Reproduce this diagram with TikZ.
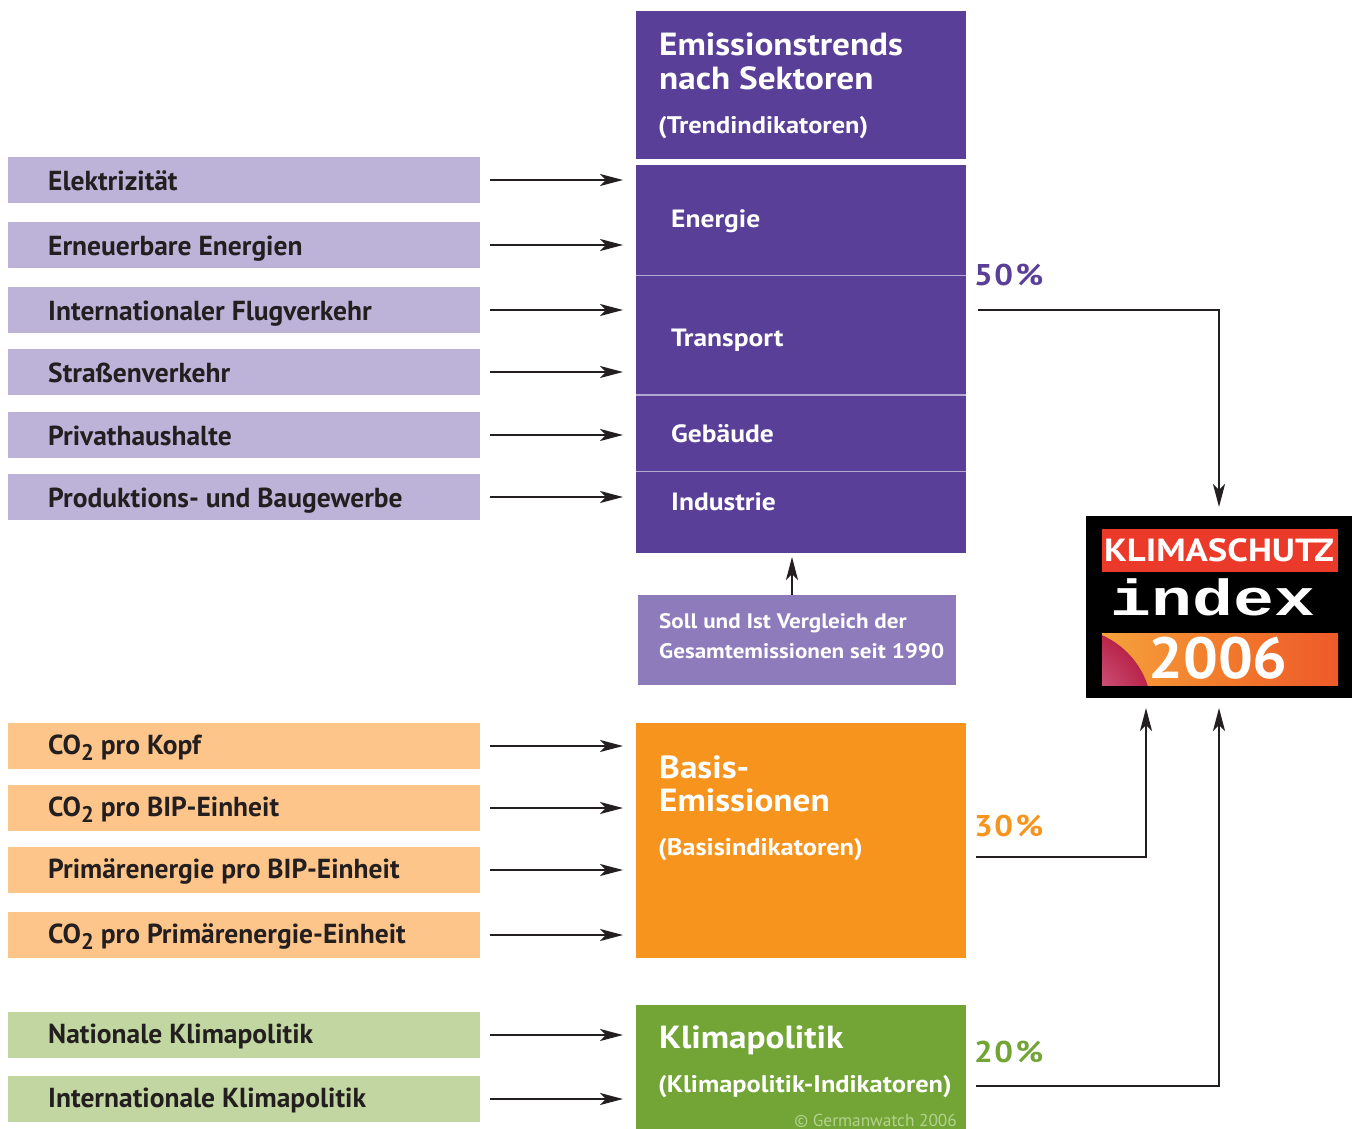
\documentclass[tikz,border=0pt]{standalone}
\usepackage{fontspec}
\setmainfont{PT Sans}
\newfontfamily\widefont{PT Sans}[FakeStretch=1.1]
\newfontfamily\logomono{Liberation Mono}
\usetikzlibrary{arrows.meta,calc}
\definecolor{pdark}{HTML}{593F98}
\definecolor{plight}{HTML}{BDB3D8}
\definecolor{psoll}{HTML}{8E7BBC}
\definecolor{odark}{HTML}{F7941E}
\definecolor{olight}{HTML}{FDC58A}
\definecolor{gdark}{HTML}{72A536}
\definecolor{glight}{HTML}{C2D6A1}
\definecolor{gcopy}{HTML}{B3D28E}
\definecolor{txt}{HTML}{231F20}
\definecolor{logored}{HTML}{EC3A2A}
\definecolor{bandl}{HTML}{F5A23C}
\definecolor{bandm}{HTML}{F27B2C}
\definecolor{bandr}{HTML}{EE5A2A}
\definecolor{pinkin}{HTML}{E27AA0}
\definecolor{pinkout}{HTML}{B8244A}
\newcommand\cotwo{CO\raisebox{-0.22em}{\scalebox{0.82}{2}}}
\begin{document}
\begin{tikzpicture}[x=1pt,y=-1pt,
  box/.style={inner sep=0pt,outer sep=0pt,anchor=north west,draw=none},
  lbox/.style={box,minimum width=472pt,minimum height=46pt},
  ltext/.style={inner sep=0pt,anchor=base west,text=txt,font=\fontsize{27.5}{32}\selectfont\bfseries},
  wtitle/.style={inner sep=0pt,anchor=base west,text=white,font=\widefont\fontsize{32}{36}\selectfont\bfseries},
  wsub/.style={inner sep=0pt,anchor=base west,text=white,font=\widefont\fontsize{24}{28}\selectfont\bfseries},
  wsec/.style={inner sep=0pt,anchor=base west,text=white,font=\widefont\fontsize{25}{28}\selectfont\bfseries},
  wsoll/.style={inner sep=0pt,anchor=base west,text=white,font=\widefont\fontsize{21}{24}\selectfont\bfseries},
  pct/.style={inner sep=0pt,anchor=base west,font=\widefont\fontsize{30}{32}\selectfont\bfseries},
  arr/.style={draw=txt,line width=2.4pt,-{Stealth[length=23pt,width=12pt,inset=6pt]}},
  sep/.style={draw=pdark!45!white,line width=1.2pt}
]
\useasboundingbox (0,0) rectangle (1354,1129);

% ---------- purple column ----------
\node[box,fill=pdark,minimum width=330pt,minimum height=148pt] (head) at (636,11) {};
\node[box,fill=pdark,minimum width=330pt,minimum height=110.5pt] (energie) at (636,165) {};
\node[box,fill=pdark,minimum width=330pt,minimum height=119.5pt] (transport) at (636,275.5) {};
\node[box,fill=pdark,minimum width=330pt,minimum height=76.5pt] (gebaeude) at (636,395) {};
\node[box,fill=pdark,minimum width=330pt,minimum height=81.5pt] (industrie) at (636,471.5) {};
\draw[sep] (transport.north west) -- (transport.north east);
\draw[sep] (gebaeude.north west) -- (gebaeude.north east);
\draw[sep] (industrie.north west) -- (industrie.north east);

\node[wtitle] (h1) at (659,56) {Emissionstrends};
\node[wtitle] (h2) at (659,90) {nach Sektoren};
\node[wsub] (h3) at (658,133) {(Trendindikatoren)};
\node[wsec] (s1) at (671,227) {Energie};
\node[wsec] (s2) at (671,346) {Transport};
\node[wsec] (s3) at (671,442) {Gebäude};
\node[wsec] (s4) at (671,510) {Industrie};

% Soll box
\node[box,fill=psoll,minimum width=318pt,minimum height=90pt] (soll) at (638,595) {};
\node[wsoll] (so1) at (659,628) {Soll und Ist Vergleich der};
\node[wsoll] (so2) at (659,658) {Gesamtemissionen seit 1990};
\draw[arr,shorten >=4pt] ($(soll.north)+(-5,0)$) -- ($(industrie.south)+(-9,0)$);

% ---------- orange ----------
\node[box,fill=odark,minimum width=330pt,minimum height=235pt] (basis) at (636,723) {};
\node[wtitle] (b1) at (659,778) {Basis-};
\node[wtitle] (b2) at (659,811) {Emissionen};
\node[wsub] (b3) at (658,855) {(Basisindikatoren)};

% ---------- green ----------
\node[box,fill=gdark,minimum width=330pt,minimum height=124pt] (klima) at (636,1005) {};
\node[wtitle] (k1) at (659,1048) {Klimapolitik};
\node[wsub] (k2) at (658,1092) {(Klimapolitik-Indikatoren)};
\node[inner sep=0pt,anchor=base east,text=gcopy,font=\fontsize{17.3}{19}\selectfont] (copy) at (957,1126) {© Germanwatch 2006};

% ---------- left labels ----------
\node[lbox,fill=plight] (l1) at (8,157) {};
\node[lbox,fill=plight] (l2) at (8,222) {};
\node[lbox,fill=plight] (l3) at (8,287) {};
\node[lbox,fill=plight] (l4) at (8,349) {};
\node[lbox,fill=plight] (l5) at (8,412) {};
\node[lbox,fill=plight] (l6) at (8,474) {};
\node[ltext] (t1) at (48,190) {Elektrizität};
\node[ltext] (t2) at (48,255) {Erneuerbare Energien};
\node[ltext] (t3) at (48,320) {Internationaler Flugverkehr};
\node[ltext] (t4) at (48,382) {Straßenverkehr};
\node[ltext] (t5) at (48,445) {Privathaushalte};
\node[ltext] (t6) at (48,507) {Produktions- und Baugewerbe};

\node[lbox,fill=olight] (o1) at (8,723) {};
\node[lbox,fill=olight] (o2) at (8,785) {};
\node[lbox,fill=olight] (o3) at (8,847) {};
\node[lbox,fill=olight] (o4) at (8,912) {};
\node[ltext] (u1) at (48,754) {\cotwo{} pro Kopf};
\node[ltext] (u2) at (48,816) {\cotwo{} pro BIP-Einheit};
\node[ltext] (u3) at (48,878) {Primärenergie pro BIP-Einheit};
\node[ltext] (u4) at (48,943) {\cotwo{} pro Primärenergie-Einheit};

\node[lbox,fill=glight] (g1) at (8,1012) {};
\node[lbox,fill=glight] (g2) at (8,1076) {};
\node[ltext] (v1) at (48,1043) {Nationale Klimapolitik};
\node[ltext] (v2) at (48,1107) {Internationale Klimapolitik};

% ---------- left arrows ----------
\foreach \a/\b in {l1/energie,l2/energie,l3/transport,l4/transport,l5/gebaeude,l6/industrie,o1/basis,o2/basis,o3/basis,o4/basis,g1/klima,g2/klima}
  \draw[arr,shorten <=10pt,shorten >=13pt] (\a.east) -- (\a.east -| \b.west);

% ---------- percentages ----------
\node[pct,text=pdark] (p50) at (974,285) {5\kern1.5pt0\kern2.5pt\%};
\node[pct,text=odark] (p30) at (974,836) {3\kern1.5pt0\kern2.5pt\%};
\node[pct,text=gdark] (p20) at (974,1062) {2\kern1.5pt0\kern2.5pt\%};

% ---------- logo ----------
\node[box,fill=black,minimum width=266pt,minimum height=182pt] (logo) at (1086,516) {};
\fill[logored] (1102,529) rectangle (1338,572);
\shade[left color=bandl,right color=bandr,middle color=bandm] (1102,633) rectangle (1338,685);
\begin{scope}
  \clip (1102,633) rectangle (1338,685);
  \shade[inner color=pinkin,outer color=pinkout] (1068,712) circle (84);
\end{scope}
\node[inner sep=0pt,anchor=base,text=white,font=\fontsize{32}{34}\selectfont\bfseries] (lk) at (1219,561) {\scalebox{1.15}[1]{KLIMASCHUTZ}};
\node[inner sep=0pt,anchor=base,text=white,font=\fontsize{62}{66}\selectfont\logomono\bfseries] (li) at (1213,615) {\scalebox{1.1}[0.82]{index}};
\node[inner sep=0pt,anchor=base,text=white,font=\fontsize{58}{60}\selectfont\bfseries] (ly) at (1218,678) {\scalebox{1.06}[1]{2006}};

% ---------- connectors to logo ----------
\coordinate (c50) at (978,310);
\coordinate (c30) at (976,857);
\coordinate (c20) at (976,1086);
\coordinate (in30) at ($(logo.south)+(-73,0)$);
\draw[arr,shorten >=9pt] (c50) -| (logo.north);
\draw[arr,shorten >=10pt] (c30) -| (in30);
\draw[arr,shorten >=10pt] (c20) -| (logo.south);
\end{tikzpicture}
\end{document}
